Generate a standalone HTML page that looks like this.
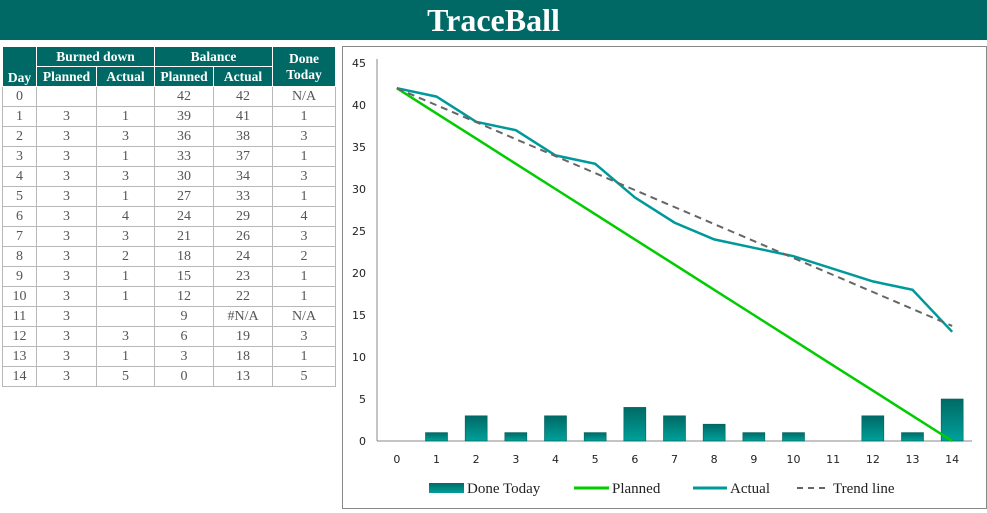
<!DOCTYPE html>
<html><head><meta charset="utf-8"><style>
body{margin:0;width:987px;height:511px;background:#fff;position:relative;overflow:hidden;font-family:"Liberation Serif",serif}
#title{position:absolute;left:0;top:0;width:987px;height:40px;background:#006965;color:#fff;font-weight:bold;font-size:32px;text-align:center;line-height:40px}
table{position:absolute;left:2px;top:46px;border-collapse:collapse;font-size:14px;color:#555}
td,th{border:1px solid #b8b8b8;padding:0;text-align:center;height:19px}
th{background:#006965;color:#fff;font-weight:bold;font-size:13.5px;border-color:#fff;height:19px}
table{border:1px solid #555}
#chartbox{position:absolute;left:342px;top:46px;width:643px;height:461px;border:1px solid #888}
svg text{font-family:"DejaVu Sans","Liberation Sans",sans-serif;font-size:11px;fill:#222}
</style></head><body>
<div id="title">TraceBall</div>
<table>
<colgroup><col style="width:34px"><col style="width:60px"><col style="width:58px"><col style="width:59px"><col style="width:59px"><col style="width:63px"></colgroup>
<tr><th rowspan="2" style="vertical-align:bottom">Day</th><th colspan="2">Burned down</th><th colspan="2">Balance</th><th rowspan="2">Done<br>Today</th></tr>
<tr><th>Planned</th><th>Actual</th><th>Planned</th><th>Actual</th></tr>
<tbody id="tb"></tbody>
</table>
<div id="chartbox">
<svg id="svg" width="643" height="461"></svg>
</div>
<script>
const days=[0,1,2,3,4,5,6,7,8,9,10,11,12,13,14];
const planned=[42,39,36,33,30,27,24,21,18,15,12,9,6,3,0];
const actual=[42,41,38,37,34,33,29,26,24,23,22,null,19,18,13];
const doneToday=[null,1,3,1,3,1,4,3,2,1,1,null,3,1,5];
const burnPlanned=[null,3,3,3,3,3,3,3,3,3,3,3,3,3,3];
const burnActual=[null,1,3,1,3,1,4,3,2,1,1,null,3,1,5];
const trend=[42,13.7];
const yTicks=[0,5,10,15,20,25,30,35,40,45];

const tb=document.getElementById('tb');
days.forEach((d,i)=>{
  const tr=document.createElement('tr');
  
  
  const cells=[d,burnPlanned[i]??'',burnActual[i]??'',planned[i],actual[i]===null?'#N/A':actual[i],doneToday[i]===null?'N/A':doneToday[i]];
  cells.forEach(c=>{const td=document.createElement('td');td.textContent=c;tr.appendChild(td);});
  tb.appendChild(tr);
});

const ox=342,oy=46;
const svg=document.getElementById('svg');
const NS='http://www.w3.org/2000/svg';
function el(t,a,p){const e=document.createElementNS(NS,t);for(const k in a)e.setAttribute(k,a[k]);(p||svg).appendChild(e);return e;}
const x0=376-ox,x1=971-ox,bw=(x1-x0)/days.length;
const X=i=>x0+bw*(i+0.5);
const Y=v=>(440-oy)-v*(378/45);
const defs=el('defs',{});
const g=el('linearGradient',{id:'bg',x1:0,y1:0,x2:0,y2:1},defs);
el('stop',{offset:'0','stop-color':'#006a66'},g);el('stop',{offset:'1','stop-color':'#00a09a'},g);
yTicks.forEach(t=>{const tx=el('text',{x:23,y:Y(t)+4,'text-anchor':'end'});tx.textContent=t;

});
el('line',{x1:x0,y1:Y(45)-4,x2:x0,y2:Y(0),stroke:'#888'});
el('line',{x1:x0,y1:Y(0),x2:x1,y2:Y(0),stroke:'#888'});
days.forEach((d,i)=>{const tx=el('text',{x:X(i),y:Y(0)+22,'text-anchor':'middle'});tx.textContent=d;

});
doneToday.forEach((v,i)=>{if(v===null)return;const r=el('rect',{x:X(i)-11,y:Y(v),width:22,height:Y(0)-Y(v),fill:'url(#bg)',stroke:'#00605c','stroke-width':0.6});

});
const pp=el('polyline',{points:planned.map((v,i)=>X(i)+','+Y(v)).join(' '),fill:'none',stroke:'#00cc00','stroke-width':2.5});


const ap=el('polyline',{points:actual.map((v,i)=>v===null?null:X(i)+','+Y(v)).filter(Boolean).join(' '),fill:'none',stroke:'#00999a','stroke-width':2.5});


const tl=el('line',{x1:X(0),y1:Y(trend[0]),x2:X(14),y2:Y(trend[1]),stroke:'#666','stroke-width':2,'stroke-dasharray':'7,5'});


// legend
const ly=487-oy;
const lg=el('g',{});


el('rect',{x:428-ox,y:ly-5,width:35,height:10,fill:'url(#bg)'},lg);
function lt(x,s){const t=el('text',{x:x-ox,y:ly+5},lg);t.setAttribute('style','font-family:"Liberation Serif",serif;font-size:15px');t.textContent=s;}
lt(466,'Done Today');
el('line',{x1:573-ox,y1:ly,x2:608-ox,y2:ly,stroke:'#00cc00','stroke-width':3},lg);lt(611,'Planned');
el('line',{x1:692-ox,y1:ly,x2:726-ox,y2:ly,stroke:'#00999a','stroke-width':3},lg);lt(729,'Actual');
el('line',{x1:796-ox,y1:ly,x2:829-ox,y2:ly,stroke:'#666','stroke-width':2,'stroke-dasharray':'6,5'},lg);lt(832,'Trend line');
</script>
</body></html>
